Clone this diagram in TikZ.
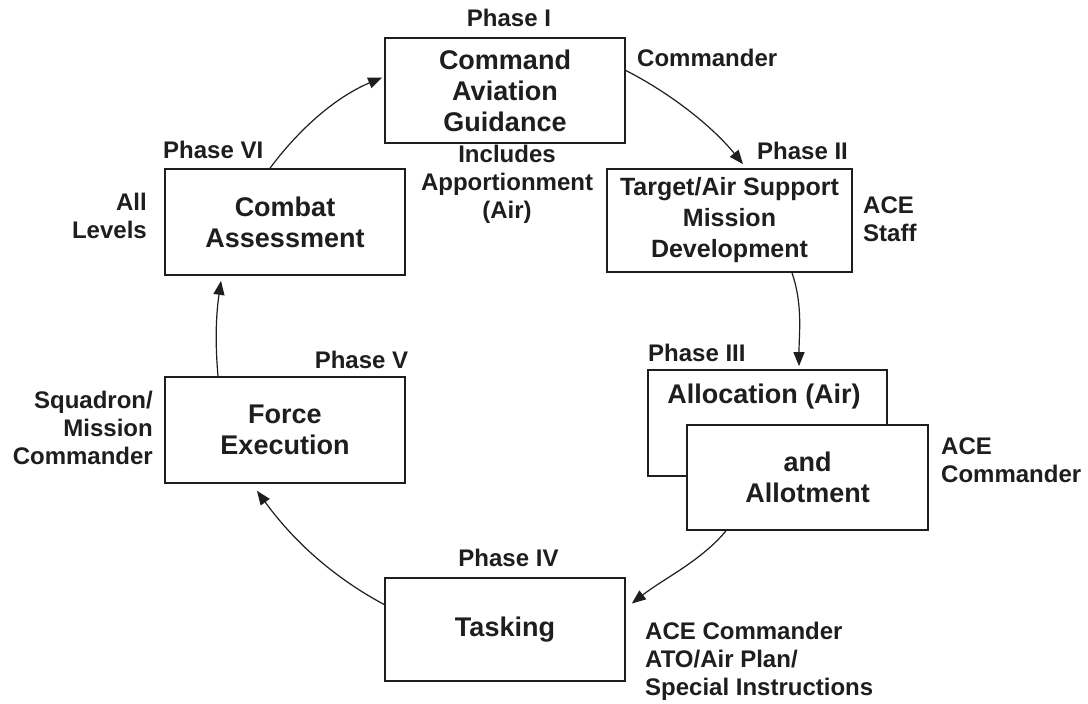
\documentclass[tikz,border=0pt]{standalone}
\usepackage{fontspec}
\setmainfont{Liberation Sans}
\usetikzlibrary{calc,arrows.meta}
\definecolor{ink}{HTML}{1E1E1E}
\begin{document}
\begin{tikzpicture}[x=1pt,y=-1pt,
  every node/.style={text=ink},
  box/.style={draw=ink, line width=1.7pt, inner sep=0pt, align=center,
     font=\fontsize{27}{31}\selectfont\bfseries, fill=white},
  lbl/.style={inner sep=0pt, font=\fontsize{24}{28}\selectfont\bfseries},
  conn/.style={draw=ink, line width=1.2pt, -{Triangle[length=14pt,width=11pt]}}
]
\useasboundingbox[fill=white] (0,0) rectangle (1088,704);

% boxes
\node[box, minimum width=240, minimum height=105] (b1) at (505,90.5) {Command\\Aviation\\Guidance};
\node[box, minimum width=245, minimum height=103, font=\fontsize{25}{31}\selectfont\bfseries] (b2) at (729.5,220.5) {Target/Air Support\\Mission\\Development};
\node[box, minimum width=239, minimum height=106] (b3) at (767.5,423) {};
\node[lbl, font=\fontsize{27}{31}\selectfont\bfseries] (t3) at (764,397) {Allocation (Air)};
\node[box, minimum width=241, minimum height=105] (b3b) at (807.5,477.5) {and\\Allotment};
\node[box, minimum width=240, minimum height=103] (b4) at (505,629.5) {Tasking};
\node[box, minimum width=240, minimum height=106] (b5) at (285,430) {Force\\Execution};
\node[box, minimum width=240, minimum height=106] (b6) at (285,222) {Combat\\Assessment};

% labels
\node[lbl] (p1) at (509,18) {Phase I};
\node[lbl, anchor=west] (l1) at (637,58) {Commander};
\node[lbl, align=center] (inc) at (507,184) {Includes\\Apportionment\\(Air)};
\node[lbl, anchor=west] (p2) at (757,151) {Phase II};
\node[lbl, anchor=west, align=left] (l2) at (863,219.5) {ACE\\Staff};
\node[lbl, anchor=west] (p3) at (648,353) {Phase III};
\node[lbl, anchor=west, align=left] (l3) at (941,460) {ACE\\Commander};
\node[lbl] (p4) at (508.5,558) {Phase IV};
\node[lbl, anchor=west, align=left] (l4) at (645,661) {ACE Commander\\ATO/Air Plan/\\Special Instructions};
\node[lbl] (p5) at (361.5,360) {Phase V};
\node[lbl, anchor=east, align=right] (l5) at (153,428) {Squadron/\\Mission\\Commander};
\node[lbl, anchor=west] (p6) at (163,150) {Phase VI};
\node[lbl, anchor=east, align=right] (l6) at (147,216) {All\\Levels};

% connectors
\draw[conn] ($(b6.north)+(-15,0)$) .. controls (300,128) and (336,97) .. ($(b1.west)+(-2,-13)$);
\draw[conn] ($(b1.east)+(0,-20)$) .. controls (670,93) and (712,126) .. ($(b2.north)+(13.5,-4)$);
\draw[conn] ($(b2.south)+(62.5,0)$) .. controls (803,305) and (799,333) .. ($(b3.north)+(31.5,-3)$);
\draw[conn] ($(b3b.south)+(-81.5,0)$) .. controls (701,561) and (663,579) .. ($(b4.east)+(6,-26)$);
\draw[conn] ($(b4.west)+(0,-25)$) .. controls (331,576) and (292,539) .. ($(b5.south)+(-28,7)$);
\draw[conn] ($(b5.north)+(-67,0)$) .. controls (215,342) and (216,315) .. ($(b6.south)+(-64,5)$);
\end{tikzpicture}
\end{document}
